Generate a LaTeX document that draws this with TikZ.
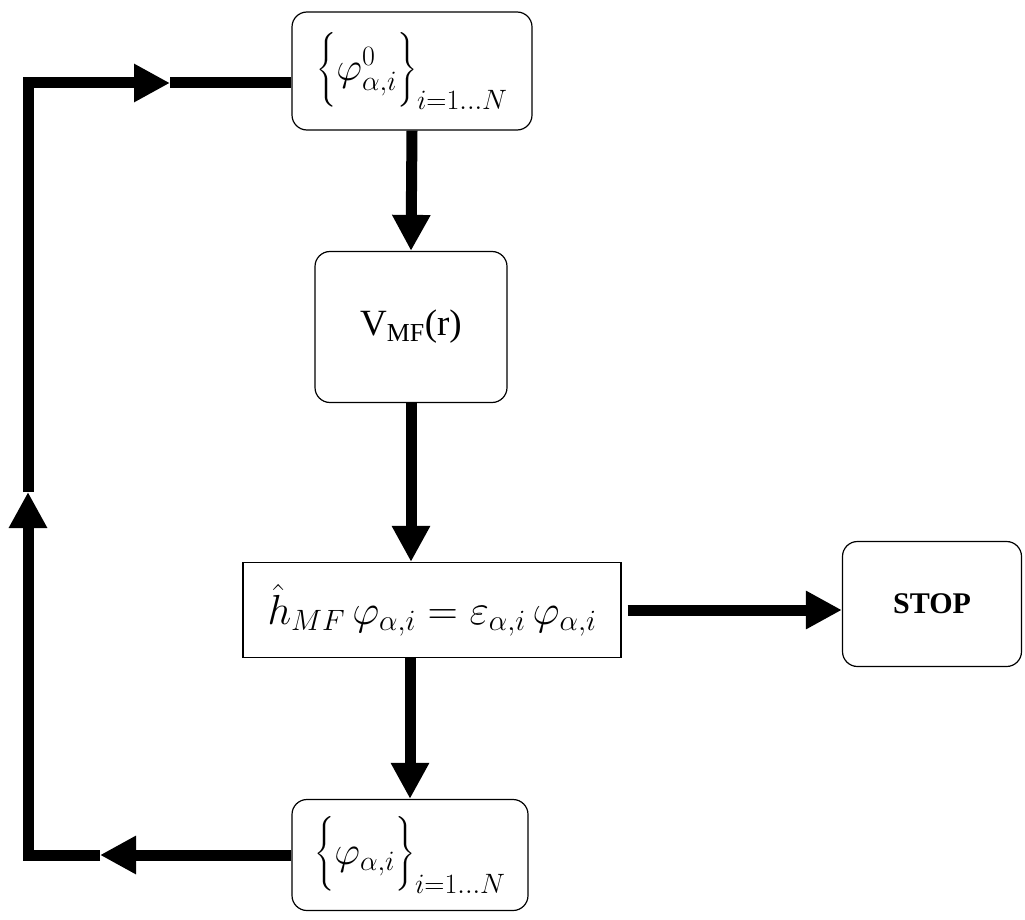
\RequirePackage{fix-cm}
\documentclass[tikz,border=0pt]{standalone}
\usepackage{amsmath}
\usepackage{fontspec}
\setmainfont{Liberation Serif}
\usetikzlibrary{positioning,arrows.meta}
\tikzset{
    rbox/.style={draw, line width=1.2pt, rounded corners=15pt, inner sep=0pt},
    sbox/.style={draw, line width=1.2pt, inner sep=0pt},
    flow/.style={line width=11pt, -{Triangle[length=36pt,width=36pt]}},
    link/.style={line width=11pt}
}
\newcommand{\bigtxt}{\fontsize{40}{44}\selectfont}
\begin{document}
\begin{tikzpicture}[x=1pt, y=-1pt]
    \useasboundingbox (0,0) rectangle (1025,920);
    % boxes
    \node[rbox, minimum width=240pt, minimum height=118pt] (init) at (412,71)
        {\bigtxt $\Bigl\{\varphi^{0}_{\alpha,i}\Bigr\}_{i=1...N}$};
    \node[rbox, minimum width=192pt, minimum height=151pt] (pot) at (411,327)
        {\fontsize{37}{42}\selectfont V\textsubscript{MF}(r)};
    \node[sbox, minimum width=378pt, minimum height=95pt] (eig) at (432,610)
        {\fontsize{42}{48}\selectfont $\hat{h}_{MF}\,\varphi_{\alpha,i}=\varepsilon_{\alpha,i}\,\varphi_{\alpha,i}$};
    \node[rbox, minimum width=179pt, minimum height=125pt] (stop) at (932,604)
        {\fontsize{30}{34}\selectfont\bfseries STOP};
    \node[rbox, minimum width=236pt, minimum height=111pt] (new) at (410,855)
        {\bigtxt $\Bigl\{\varphi_{\alpha,i}\Bigr\}_{i=1...N}$};
    % feedback corners
    \coordinate (back) at (100,855);
    \coordinate (up) at (28,492);
    \coordinate (top) at (170,83);
    % ----
    \draw[flow] (init.south) -- (pot.north);
    \draw[flow] (pot.south) -- (pot.south |- eig.north);
    \draw[flow] (new.north |- eig.south) -- (new.north);
    \draw[flow] ([xshift=6pt]eig.east) -- (eig.east -| stop.west);
    % ----
    \draw[flow] (new.west) -- (back);
    \draw[flow] (back) -| (up);
    \draw[flow] (up) |- (top);
    \draw[link] (top) -- (top -| init.west);
\end{tikzpicture}
\end{document}
